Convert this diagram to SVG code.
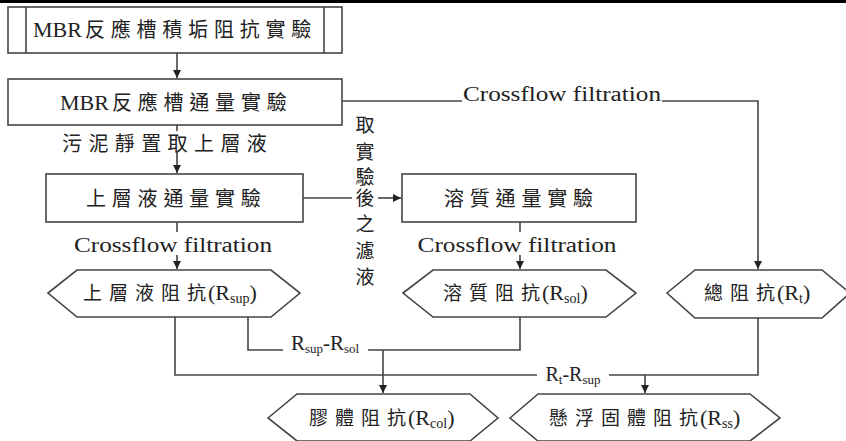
<svg xmlns="http://www.w3.org/2000/svg" width="846" height="441" viewBox="0 0 846 441">
<defs>
<marker id="ah" markerWidth="10" markerHeight="10" refX="9" refY="5" orient="auto" markerUnits="userSpaceOnUse">
<path d="M1,1 L9,5 L1,9 Z" fill="#222"/>
</marker>
<style>
.box{fill:#fff;stroke:#444;stroke-width:1.6}
.ln{fill:none;stroke:#444;stroke-width:1.6}
.t{font-family:"Liberation Serif","Noto Sans CJK TC",serif;fill:#222}
.m{text-anchor:middle}
.b{font-size:22px}
.cb{font-size:20px;letter-spacing:5.8px}
.ch{font-size:19px;letter-spacing:7px}
.cl{font-size:19px}
.s{font-size:14px}
.cf{font-size:20px;text-anchor:middle}
.v{font-size:19px;text-anchor:middle}
</style>
</defs>
<rect x="0" y="0" width="846" height="3" fill="#000"/>

<g id="n1">
<rect class="box" x="8" y="7" width="334" height="46"/>
<line class="ln" x1="26" y1="7" x2="26" y2="53"/>
<line class="ln" x1="324" y1="7" x2="324" y2="53"/>
<text class="t b" x="33" y="37">MBR<tspan class="cb" dx="3">反應槽積垢阻抗實驗</tspan></text>
</g>
<g id="n2">
<rect class="box" x="8" y="79" width="334" height="46"/>
<text class="t b" x="60" y="110">MBR<tspan class="cb" dx="3">反應槽通量實驗</tspan></text>
</g>
<g id="n3">
<rect class="box" x="46" y="174" width="257" height="48"/>
<text class="t cb" x="86" y="206">上層液通量實驗</text>
</g>
<g id="n4">
<rect class="box" x="402" y="174" width="234" height="48"/>
<text class="t cb" x="444" y="206">溶質通量實驗</text>
</g>
<g id="h1">
<polygon class="box" points="48,293 77,270 271,270 300,293 271,317 77,317"/>
<text class="t b" x="83" y="300"><tspan class="ch">上層液阻</tspan><tspan class="cl">抗</tspan><tspan dx="2">(R</tspan><tspan class="s" dy="3">sup</tspan><tspan dy="-3">)</tspan></text>
</g>
<g id="h2">
<polygon class="box" points="403,293 433,270 606,270 636,293 606,317 433,317"/>
<text class="t b" x="443" y="300"><tspan class="ch">溶質阻</tspan><tspan class="cl">抗</tspan><tspan dx="2">(R</tspan><tspan class="s" dy="3">sol</tspan><tspan dy="-3">)</tspan></text>
</g>
<g id="h3">
<polygon class="box" points="667,293 695,270 822,270 850,293 822,318 695,318"/>
<text class="t b" x="704" y="300"><tspan class="ch">總阻</tspan><tspan class="cl">抗</tspan><tspan dx="2">(R</tspan><tspan class="s" dy="3">t</tspan><tspan dy="-3">)</tspan></text>
</g>
<g id="h4">
<polygon class="box" points="268,418 297,394 470,394 498,418 470,441 297,441"/>
<text class="t b" x="309" y="425"><tspan class="ch">膠體阻</tspan><tspan class="cl">抗</tspan><tspan dx="2">(R</tspan><tspan class="s" dy="3">col</tspan><tspan dy="-3">)</tspan></text>
</g>
<g id="h5">
<polygon class="box" points="510,418 538,394 750,394 780,418 750,441 538,441"/>
<text class="t b" x="549" y="425"><tspan class="ch">懸浮固體阻</tspan><tspan class="cl">抗</tspan><tspan dx="2">(R</tspan><tspan class="s" dy="3">ss</tspan><tspan dy="-3">)</tspan></text>
</g>

<g id="connectors">
<line class="ln" x1="177" y1="53" x2="177" y2="78" marker-end="url(#ah)"/>
<line class="ln" x1="177" y1="125" x2="177" y2="131"/>
<line class="ln" x1="177" y1="152" x2="177" y2="173" marker-end="url(#ah)"/>
<line class="ln" x1="177" y1="222" x2="177" y2="232"/>
<line class="ln" x1="177" y1="255" x2="177" y2="269" marker-end="url(#ah)"/>
<line class="ln" x1="520" y1="222" x2="520" y2="232"/>
<line class="ln" x1="520" y1="255" x2="520" y2="269" marker-end="url(#ah)"/>
<polyline class="ln" points="342,101 462,101"/>
<polyline class="ln" points="662,101 758,101 758,269" marker-end="url(#ah)"/>
<line class="ln" x1="303" y1="198" x2="352" y2="198"/>
<line class="ln" x1="378" y1="198" x2="401" y2="198" marker-end="url(#ah)"/>
<polyline class="ln" points="175,317 175,375 537,375"/>
<polyline class="ln" points="609,375 758,375 758,318"/>
<line class="ln" x1="645" y1="375" x2="645" y2="393" marker-end="url(#ah)"/>
<polyline class="ln" points="248,317 248,350 283,350"/>
<polyline class="ln" points="368,350 520,350 520,317"/>
<line class="ln" x1="383" y1="350" x2="383" y2="393" marker-end="url(#ah)"/>

<text class="t cb" x="62" y="151" style="letter-spacing:6.4px">污泥靜置取上層液</text>
<text class="t cf" x="173" y="252" textLength="198" lengthAdjust="spacingAndGlyphs">Crossflow filtration</text>
<text class="t cf" x="517" y="252" textLength="199" lengthAdjust="spacingAndGlyphs">Crossflow filtration</text>
<text class="t cf" x="562" y="101" textLength="198" lengthAdjust="spacingAndGlyphs">Crossflow filtration</text>
<text class="t v" x="365" y="132">取</text>
<text class="t v" x="365" y="159">實</text>
<text class="t v" x="365" y="184">驗</text>
<text class="t v" x="365" y="205">後</text>
<text class="t v" x="365" y="231">之</text>
<text class="t v" x="365" y="258">濾</text>
<text class="t v" x="365" y="284">液</text>
<text class="t m" font-size="21" x="325" y="350">R<tspan font-size="13" dy="3">sup</tspan><tspan dy="-3">-R</tspan><tspan font-size="13" dy="3">sol</tspan></text>
<text class="t m" font-size="20" x="573" y="381">R<tspan font-size="13" dy="3">t</tspan><tspan dy="-3">-R</tspan><tspan font-size="13" dy="3">sup</tspan></text>
</g>
</svg>
